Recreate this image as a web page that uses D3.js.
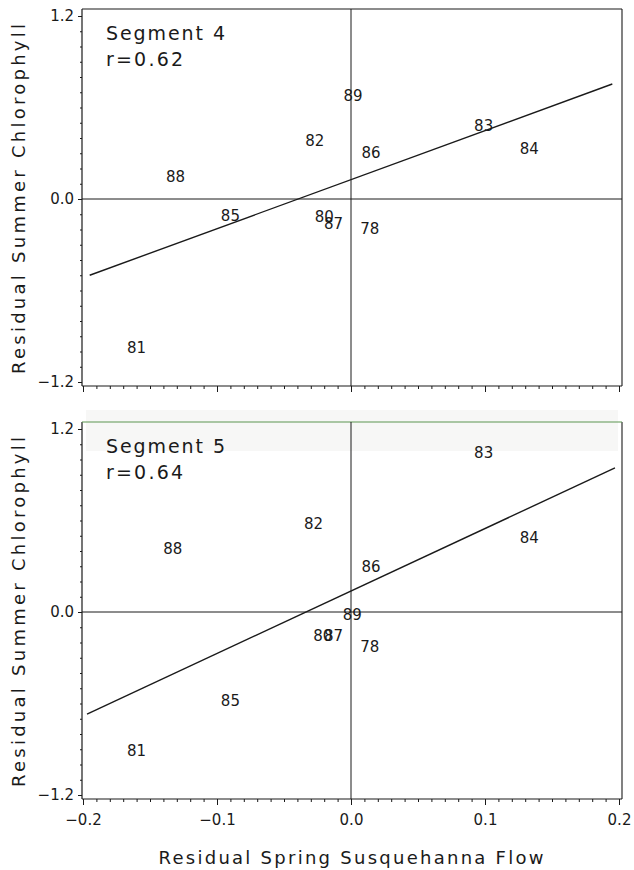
<!DOCTYPE html>
<html>
<head>
<meta charset="utf-8">
<script src="https://cdn.jsdelivr.net/npm/d3@7/dist/d3.min.js"></script>
<style>
  html, body { margin: 0; padding: 0; background: #fff; }
  svg { display: block; }
  text { font-family: "DejaVu Sans", "Liberation Sans", sans-serif; fill: #1a1a1a; }
</style>
</head>
<body>
<svg id="chart" width="634" height="870"></svg>
<script>
// Tick values
const xMajorTicks = [-0.2, -0.1, 0.0, 0.1, 0.2];
const yMajorTicks = [-1.2, 0.0, 1.2];

// Survey years plotted as labels
const years = ["78", "80", "81", "82", "83", "84", "85", "86", "87", "88", "89"];

// Segment 4 residuals (flow, chlorophyll)
const seg4Flow = [0.014, -0.020, -0.160, -0.027, 0.099, 0.133, -0.090, 0.015, -0.013, -0.131, 0.0015];
const seg4Chl  = [-0.197, -0.12, -0.98, 0.38, 0.48, 0.33, -0.11, 0.30, -0.165, 0.144, 0.675];
const seg4FitX = [-0.195, 0.195];
const seg4FitY = [-0.50, 0.754];

// Segment 5 residuals (flow, chlorophyll)
const seg5Flow = [0.014, -0.021, -0.160, -0.028, 0.099, 0.133, -0.090, 0.015, -0.013, -0.133, 0.001];
const seg5Chl  = [-0.23, -0.157, -0.91, 0.58, 1.04, 0.485, -0.585, 0.295, -0.157, 0.41, -0.02];
const seg5FitX = [-0.197, 0.197];
const seg5FitY = [-0.67, 0.945];

const panels = [
  { title: "Segment 4", r: "r=0.62", flow: seg4Flow, chl: seg4Chl, fitX: seg4FitX, fitY: seg4FitY, top: 16, xLabels: false },
  { title: "Segment 5", r: "r=0.64", flow: seg5Flow, chl: seg5Chl, fitX: seg5FitX, fitY: seg5FitY, top: 429, xLabels: true }
];

const svg = d3.select("#chart");
const ink = "#1a1a1a";
const plotH = 366;

const x = d3.scaleLinear().domain([-0.2, 0.2]).range([83, 619]);
const frameL = 82, frameR = 622;

const fmt = v => (v < 0 ? "\u2212" : "") + Math.abs(v).toFixed(1);

panels.forEach((p, pi) => {
  const y = d3.scaleLinear().domain([-1.2, 1.2]).range([p.top + plotH, p.top]);
  const frameT = y(1.2) - 7;
  const frameB = y(-1.2) + 4;
  const g = svg.append("g");

  if (pi === 1) {
    // faint band along the top edge of the lower panel
    g.append("rect").attr("x", 86).attr("y", frameT - 12).attr("width", 532).attr("height", 41)
      .attr("fill", "#f7f7f6");
  }

  // frame
  g.append("line").attr("x1", frameL).attr("x2", frameL).attr("y1", frameT).attr("y2", frameB)
    .attr("stroke", ink).attr("stroke-width", 1.2);
  g.append("line").attr("x1", frameR).attr("x2", frameR).attr("y1", frameT).attr("y2", frameB)
    .attr("stroke", ink).attr("stroke-width", 1.1);
  g.append("line").attr("x1", frameL).attr("x2", frameR).attr("y1", frameB).attr("y2", frameB)
    .attr("stroke", ink).attr("stroke-width", 1.2);
  g.append("line").attr("x1", frameL).attr("x2", frameR).attr("y1", frameT).attr("y2", frameT)
    .attr("stroke", pi === 1 ? "#5c9650" : ink).attr("stroke-width", 1.2);

  // zero reference lines
  g.append("line").attr("x1", x(0)).attr("x2", x(0)).attr("y1", frameT).attr("y2", frameB)
    .attr("stroke", ink).attr("stroke-width", 1);
  g.append("line").attr("x1", frameL).attr("x2", frameR).attr("y1", y(0)).attr("y2", y(0))
    .attr("stroke", ink).attr("stroke-width", 1);

  // left axis: minor ticks every 0.1, major ticks labelled
  const yMinor = d3.range(-12, 13).map(i => i / 10).filter(v => !yMajorTicks.some(m => Math.abs(m - v) < 1e-9));
  const ay1 = g.append("g").attr("transform", `translate(${frameL},0)`)
    .call(d3.axisLeft(y).tickValues(yMinor).tickSize(2).tickFormat(""));
  const ay2 = g.append("g").attr("transform", `translate(${frameL},0)`)
    .call(d3.axisLeft(y).tickValues(yMajorTicks).tickSize(4).tickPadding(4).tickFormat(fmt));
  [ay1, ay2].forEach(a => {
    a.select(".domain").remove();
    a.selectAll("line").attr("stroke", ink);
  });
  ay2.selectAll("text").attr("font-size", 15).attr("fill", ink)
    .style("font-family", '"DejaVu Sans", sans-serif');

  // bottom axis: minor ticks every 0.01, major every 0.1
  const xMinor = d3.range(-20, 21).map(i => i / 100).filter(v => !xMajorTicks.some(m => Math.abs(m - v) < 1e-9));
  const ax1 = g.append("g").attr("transform", `translate(0,${frameB})`)
    .call(d3.axisBottom(x).tickValues(xMinor).tickSize(3).tickFormat(""));
  const ax2 = g.append("g").attr("transform", `translate(0,${frameB})`)
    .call(d3.axisBottom(x).tickValues(xMajorTicks).tickSize(6).tickPadding(9)
      .tickFormat(p.xLabels ? fmt : ""));
  [ax1, ax2].forEach(a => {
    a.select(".domain").remove();
    a.selectAll("line").attr("stroke", ink);
  });
  ax2.selectAll("text").attr("font-size", 15).attr("fill", ink)
    .style("font-family", '"DejaVu Sans", sans-serif');

  // fitted regression line
  const fit = p.fitX.map((v, i) => [v, p.fitY[i]]);
  g.append("path").datum(fit)
    .attr("d", d3.line().x(d => x(d[0])).y(d => y(d[1])))
    .attr("fill", "none").attr("stroke", ink).attr("stroke-width", 1.4);

  // year labels at each point
  g.selectAll("text.yr").data(years).enter().append("text")
    .attr("class", "yr")
    .attr("x", (d, i) => x(p.flow[i]))
    .attr("y", (d, i) => y(p.chl[i]))
    .attr("text-anchor", "middle")
    .attr("dominant-baseline", "central")
    .attr("font-size", 15)
    .text(d => d);

  // panel title and correlation
  g.append("text").attr("x", 106).attr("y", y(1.2) + 17)
    .attr("dominant-baseline", "central").attr("font-size", 19)
    .attr("textLength", 119).attr("lengthAdjust", "spacing")
    .text(p.title);
  g.append("text").attr("x", 106).attr("y", y(1.2) + 43)
    .attr("dominant-baseline", "central").attr("font-size", 19)
    .attr("textLength", 77).attr("lengthAdjust", "spacing")
    .text(p.r);

  // y-axis title
  g.append("text")
    .attr("transform", `translate(18,${y(0)}) rotate(-90)`)
    .attr("text-anchor", "middle").attr("dominant-baseline", "central")
    .attr("font-size", 18)
    .attr("textLength", 350).attr("lengthAdjust", "spacing")
    .text("Residual Summer Chlorophyll");
});

// x-axis title
svg.append("text")
  .attr("x", x(0)).attr("y", 857)
  .attr("text-anchor", "middle").attr("dominant-baseline", "central")
  .attr("font-size", 18)
  .attr("textLength", 385).attr("lengthAdjust", "spacing")
  .text("Residual Spring Susquehanna Flow");
</script>
</body>
</html>
